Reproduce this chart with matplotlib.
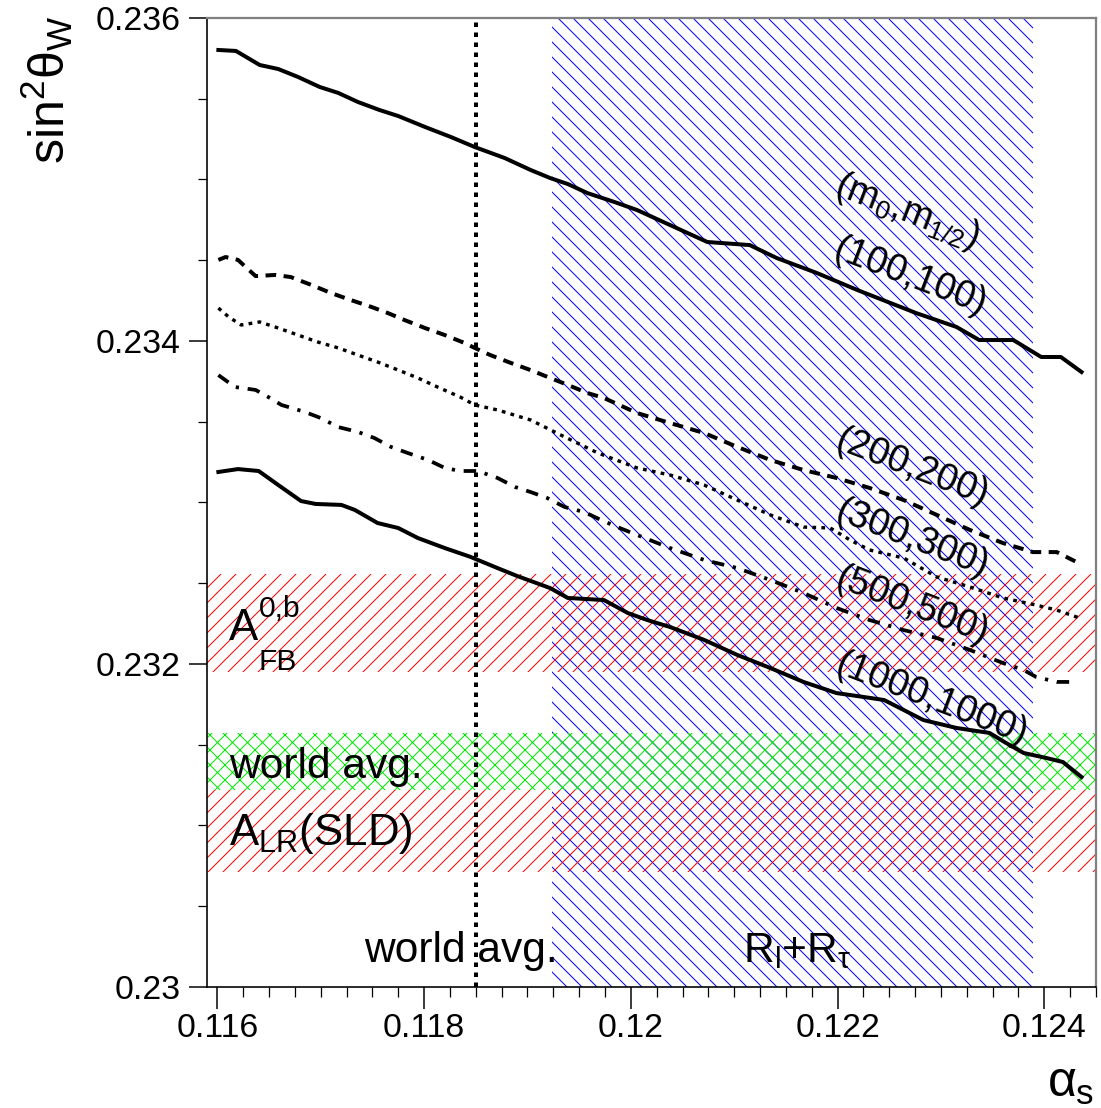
import matplotlib
matplotlib.use('Agg')
import matplotlib.pyplot as plt
from matplotlib.ticker import MultipleLocator

plt.rcParams['font.family'] = ['Liberation Sans', 'DejaVu Sans']
plt.rcParams['mathtext.fontset'] = 'custom'
plt.rcParams['mathtext.rm'] = 'Liberation Sans'
plt.rcParams['mathtext.it'] = 'Liberation Sans'
plt.rcParams['mathtext.bf'] = 'Liberation Sans:bold'
plt.rcParams['mathtext.sf'] = 'Liberation Sans'
plt.rcParams['hatch.linewidth'] = 0.8
plt.rcParams['lines.scale_dashes'] = False

# ---------------- data ----------------
alpha_100 = [0.11601, 0.11618, 0.11641, 0.11659, 0.11678, 0.11699, 0.11717, 0.11736,
             0.11757, 0.11775, 0.11801, 0.11826, 0.11849, 0.11878, 0.11903, 0.11922,
             0.11939, 0.11958, 0.11984, 0.12006, 0.12074, 0.12115, 0.12141, 0.12180,
             0.12219, 0.12276, 0.12315, 0.12337, 0.12370, 0.12397, 0.12416, 0.12436]
s2w_100 = [0.235802, 0.235796, 0.235709, 0.235684, 0.235635, 0.235573, 0.235536, 0.235480,
           0.235430, 0.235393, 0.235325, 0.235263, 0.235201, 0.235133, 0.235059, 0.235009,
           0.234972, 0.234916, 0.234861, 0.234811, 0.234613, 0.234594, 0.234514, 0.234421,
           0.234316, 0.234173, 0.234087, 0.234006, 0.234006, 0.233901, 0.233901, 0.233808]

alpha_200 = [0.11601, 0.11608, 0.11620, 0.11637, 0.11656, 0.11671, 0.11691, 0.11710,
             0.11729, 0.11749, 0.11765, 0.11781, 0.11801, 0.11820, 0.11839, 0.11849,
             0.11864, 0.11884, 0.11903, 0.11922, 0.11939, 0.11958, 0.11974, 0.12006,
             0.12038, 0.12071, 0.12103, 0.12135, 0.12167, 0.12199, 0.12231, 0.12264,
             0.12296, 0.12328, 0.12360, 0.12389, 0.12412, 0.12431]
s2w_200 = [0.234502, 0.234520, 0.234502, 0.234402, 0.234409, 0.234396, 0.234347, 0.234297,
           0.234254, 0.234211, 0.234173, 0.234130, 0.234080, 0.234037, 0.233988, 0.233957,
           0.233913, 0.233864, 0.233820, 0.233771, 0.233728, 0.233678, 0.233647, 0.233554,
           0.233492, 0.233430, 0.233344, 0.233263, 0.233201, 0.233152, 0.233090, 0.233015,
           0.232923, 0.232830, 0.232749, 0.232693, 0.232693, 0.232632]

alpha_300 = [0.11601, 0.11611, 0.11623, 0.11641, 0.11659, 0.11678, 0.11697, 0.11717,
             0.11736, 0.11755, 0.11775, 0.11794, 0.11813, 0.11835, 0.11849, 0.11871,
             0.11903, 0.11936, 0.11968, 0.12006, 0.12038, 0.12071, 0.12103, 0.12135,
             0.12167, 0.12193, 0.12212, 0.12231, 0.12264, 0.12296, 0.12328, 0.12360,
             0.12392, 0.12412, 0.12434]
s2w_300 = [0.234204, 0.234149, 0.234099, 0.234118, 0.234080, 0.234037, 0.233994, 0.233957,
           0.233913, 0.233870, 0.233820, 0.233771, 0.233715, 0.233653, 0.233604, 0.233573,
           0.233511, 0.233406, 0.233307, 0.233214, 0.233170, 0.233108, 0.233015, 0.232923,
           0.232848, 0.232842, 0.232768, 0.232706, 0.232656, 0.232539, 0.232477, 0.232409,
           0.232365, 0.232334, 0.232285]

alpha_500 = [0.11601, 0.11617, 0.11637, 0.11651, 0.11662, 0.11685, 0.11700, 0.11717,
             0.11736, 0.11752, 0.11768, 0.11784, 0.11804, 0.11820, 0.11835, 0.11852,
             0.11871, 0.11888, 0.11903, 0.11919, 0.11936, 0.11955, 0.11971, 0.11987,
             0.12006, 0.12038, 0.12071, 0.12103, 0.12135, 0.12167, 0.12199, 0.12231,
             0.12264, 0.12296, 0.12328, 0.12360, 0.12380, 0.12392, 0.12412, 0.12428]
s2w_500 = [0.233789, 0.233715, 0.233697, 0.233647, 0.233604, 0.233560, 0.233523, 0.233467,
           0.233437, 0.233399, 0.233344, 0.233307, 0.233263, 0.233214, 0.233195, 0.233195,
           0.233152, 0.233096, 0.233065, 0.233028, 0.232972, 0.232941, 0.232892, 0.232848,
           0.232799, 0.232718, 0.232644, 0.232594, 0.232520, 0.232440, 0.232347, 0.232272,
           0.232210, 0.232161, 0.232087, 0.232006, 0.231963, 0.231920, 0.231889, 0.231889]

alpha_1000 = [0.11601, 0.11620, 0.11640, 0.11659, 0.11681, 0.11695, 0.11720, 0.11733,
              0.11755, 0.11775, 0.11794, 0.11820, 0.11845, 0.11871, 0.11890, 0.11922,
              0.11939, 0.11974, 0.11997, 0.12016, 0.12038, 0.12071, 0.12103, 0.12135,
              0.12167, 0.12199, 0.12225, 0.12245, 0.12264, 0.12283, 0.12315, 0.12347,
              0.12363, 0.12380, 0.12402, 0.12418, 0.12436]
s2w_1000 = [0.233189, 0.233207, 0.233195, 0.233108, 0.233009, 0.232991, 0.232985, 0.232954,
            0.232873, 0.232842, 0.232780, 0.232718, 0.232663, 0.232594, 0.232545, 0.232470,
            0.232409, 0.232396, 0.232316, 0.232272, 0.232229, 0.232149, 0.232056, 0.231975,
            0.231889, 0.231820, 0.231796, 0.231777, 0.231715, 0.231653, 0.231604, 0.231573,
            0.231511, 0.231449, 0.231418, 0.231393, 0.231300]

curve_labels = ['(100,100)', '(200,200)', '(300,300)', '(500,500)', '(1000,1000)']
label_alpha = [0.12270, 0.12272, 0.12272, 0.12272, 0.12291]
label_s2w = [0.234396, 0.233214, 0.232774, 0.232359, 0.231777]
header_label = '(m$_{0}$,m$_{1/2}$)'
header_pos = (0.12267, 0.234799)

band_afb = (0.23195, 0.23256)      # A_FB^{0,b}
band_world = (0.23122, 0.23157)    # world average sin^2
band_alr = (0.23071, 0.23122)      # A_LR (SLD)
band_rlrtau = (0.11924, 0.12389)   # R_l + R_tau alpha_s range
alpha_world = 0.1185

xticks = [0.116, 0.118, 0.120, 0.122, 0.124]
xtick_labels = ['0.116', '0.118', '0.12', '0.122', '0.124']
yticks = [0.230, 0.232, 0.234, 0.236]
ytick_labels = ['0.23', '0.232', '0.234', '0.236']

# ---------------- figure ----------------
DPI = 90
W, H = 1101, 1108
fig = plt.figure(figsize=(W / DPI, H / DPI), dpi=DPI)
fig.patch.set_facecolor('white')
ax = fig.add_axes([207 / W, (H - 987) / H, (1096 - 207) / W, (987 - 18) / H])

ax.axvspan(*band_rlrtau, facecolor='none', edgecolor='blue', hatch='\\\\', lw=0, zorder=1)
ax.axhspan(*band_afb, facecolor='none', edgecolor='red', hatch='//', lw=0, zorder=1)
ax.axhspan(*band_alr, facecolor='none', edgecolor='red', hatch='//', lw=0, zorder=1)
ax.axhspan(*band_world, facecolor='none', edgecolor='#00e600', hatch='xx', lw=0, zorder=1.5)

ax.axvline(alpha_world, color='black', lw=3.2, ls=(0, (3.6, 4.4)), zorder=4)

ax.plot(alpha_100, s2w_100, color='black', lw=3.2, solid_joinstyle='round', zorder=5)
ax.plot(alpha_200, s2w_200, color='black', lw=3.2, ls=(0, (8.5, 6)), zorder=5)
ax.plot(alpha_300, s2w_300, color='black', lw=2.7, ls=(0, (3.0, 4.2)), zorder=5)
ax.plot(alpha_500, s2w_500, color='black', lw=3.0, ls=(0, (10, 7, 2.6, 7)), zorder=5)
ax.plot(alpha_1000, s2w_1000, color='black', lw=3.2, solid_joinstyle='round', zorder=5)

for txt, xa, ya in zip(curve_labels, label_alpha, label_s2w):
    ax.text(xa, ya, txt, fontsize=30, rotation=-21, rotation_mode='anchor',
            ha='center', va='center', zorder=6)
ax.text(*header_pos, header_label, fontsize=30, rotation=-21, rotation_mode='anchor',
        ha='center', va='center', zorder=6)

# A_FB^{0,b}: main letter with stacked super/subscript
ax.text(0.11611, 0.232149, 'A', fontsize=35, ha='left', va='baseline', zorder=6)
ax.text(0.11640, 0.232291, '0,b', fontsize=24, ha='left', va='baseline', zorder=6)
ax.text(0.11640, 0.231963, 'FB', fontsize=24, ha='left', va='baseline', zorder=6)
ax.text(0.11611, 0.231294, 'world avg.', fontsize=34, ha='left', va='baseline', zorder=6)
ax.text(0.11611, 0.230879, r'A$_{LR}$(SLD)', fontsize=35, ha='left', va='baseline', zorder=6)
ax.text(0.118355, 0.230155, 'world avg.', fontsize=34, ha='center', va='baseline', zorder=6)
ax.text(0.12161, 0.230155, r'R$_{l}$+R$_{\tau}$', fontsize=34, ha='center', va='baseline', zorder=6)

ax.set_xlim(0.1159, 0.1245)
ax.set_ylim(0.230, 0.236)
ax.set_xticks(xticks)
ax.set_xticklabels(xtick_labels)
ax.set_yticks(yticks)
ax.set_yticklabels(ytick_labels)
ax.xaxis.set_minor_locator(MultipleLocator(0.00025))
ax.yaxis.set_minor_locator(MultipleLocator(0.0005))
ax.tick_params(axis='x', which='major', direction='out', length=17.6, width=1.2,
               labelsize=27, pad=3)
ax.tick_params(axis='x', which='minor', direction='out', length=8, width=1.0)
ax.tick_params(axis='y', which='major', direction='out', length=14.4, width=1.2,
               labelsize=27, pad=7)
ax.tick_params(axis='y', which='minor', direction='out', length=7.2, width=1.0)
ax.tick_params(top=False, right=False, which='both')

for side in ['left', 'bottom']:
    ax.spines[side].set_color('black')
    ax.spines[side].set_linewidth(1.3)
for side in ['top', 'right']:
    ax.spines[side].set_color('#808080')
    ax.spines[side].set_linewidth(1.8)

fig.text(46.5 / W, 1 - 16 / H, r'sin$^{2}\theta_{W}$', fontsize=40, rotation=90,
         ha='center', va='top')
fig.text(1094 / W, 1 / H, r'$\alpha_{s}$', fontsize=40, ha='right', va='bottom')

fig.savefig('out.png', dpi=DPI, facecolor='white')
